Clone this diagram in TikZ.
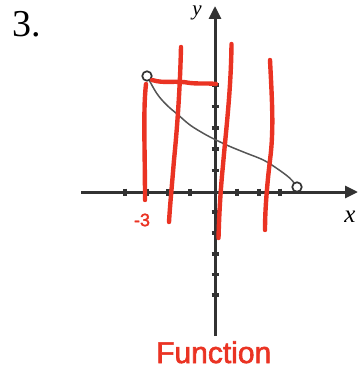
\documentclass[tikz,border=0pt]{standalone}
\usepackage{fontspec}
\setmainfont{Liberation Serif}
\newfontfamily\handfont[FakeBold=2]{Liberation Sans}
\usetikzlibrary{arrows.meta}
\definecolor{handred}{RGB}{234,51,35}
\definecolor{axisgray}{RGB}{50,50,50}
\definecolor{curvegray}{RGB}{85,85,85}
\tikzset{
  axisline/.style={draw=axisgray, line width=3pt, -{Triangle[length=13pt,width=12pt]}},
  tickmark/.style={draw=axisgray, line width=3.4pt},
  curveline/.style={draw=curvegray, line width=1.5pt},
  opendot/.style={circle, draw=axisgray, fill=white, line width=1.7pt, minimum size=9.5pt, inner sep=0pt},
  redstroke/.style={draw=handred, line width=4.4pt, line cap=round, line join=round},
  plainlabel/.style={inner sep=0pt, text=black},
  redlabel/.style={inner sep=0pt, text=handred}
}
\begin{document}
\begin{tikzpicture}[x=1pt,y=-1pt]
\useasboundingbox (0,0) rectangle (359,369);
% problem number
\node[plainlabel, anchor=base west, font=\fontsize{38}{40}\selectfont] (num) at (12,37) {3.};
% axes
\coordinate (xl) at (81,192);
\coordinate (xr) at (358,192);
\coordinate (yb) at (215,336);
\coordinate (yt) at (215,6);
\draw[axisline] (xl) -- (xr);
\draw[axisline] (yb) -- (yt);
% ticks on x axis
\foreach \tx in {125,147,168,190,237,259,280}
  \draw[tickmark] (\tx,188.5) -- (\tx,195.5);
% ticks on y axis
\foreach \ty in {85,106.5,128,149,170.5,212,233,254,274.5,295}
  \draw[tickmark] (211.5,\ty) -- (218.5,\ty);
% axis labels
\node[plainlabel, anchor=base, font=\fontsize{21}{22}\selectfont\itshape] (ylab) at (197,16) {y};
\node[plainlabel, anchor=base, font=\fontsize{25}{26}\selectfont\itshape] (xlab) at (350,222) {x};
% curve
\coordinate (cl) at (147,76);
\coordinate (cr) at (297,187);
\draw[curveline] plot[smooth, tension=0.6] coordinates {(147,76) (156.7,93.3) (166.7,105) (178.3,115) (190,125) (203.3,133.3) (215,139.5) (230,146.5) (246.7,153.3) (263.3,160) (276.7,168.3) (290,178.3) (297,187)};
\node[opendot] (dl) at (cl) {};
\node[opendot] (dr) at (cr) {};
% red vertical-line strokes
\draw[redstroke] (146,84) .. controls (143,110) and (145,150) .. (145,200);
\draw[redstroke] (152,80) .. controls (165,84) and (175,80) .. (190,83) .. controls (200,84) and (208,83) .. (216,84);
\draw[redstroke] (181,47) .. controls (180,90) and (177,130) .. (174,160) .. controls (172,185) and (170,205) .. (169,222);
\draw[redstroke] (231.5,44) .. controls (231,90) and (226,130) .. (223,165) .. controls (220,195) and (219,220) .. (218.5,238);
\draw[redstroke] (270,60) .. controls (272,100) and (274,130) .. (270,160) .. controls (267,185) and (265,210) .. (265,230);
% red labels
\node[redlabel, anchor=center, font=\handfont\fontsize{18}{19}\selectfont] (m3) at (142,220) {-3};
\node[redlabel, anchor=base west, font=\handfont\fontsize{30}{32}\selectfont] (fn) at (156,363) {Function};
\end{tikzpicture}
\end{document}
